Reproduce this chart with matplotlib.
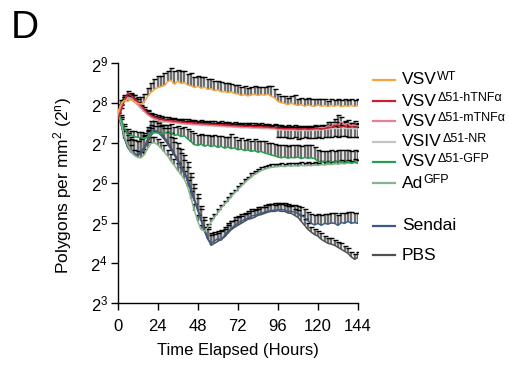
import numpy as np
import matplotlib
matplotlib.use("Agg")
import matplotlib.pyplot as plt
from matplotlib.lines import Line2D
from matplotlib.ticker import FixedLocator, FuncFormatter

plt.rcParams['font.family'] = ['Liberation Sans', 'DejaVu Sans']
plt.rcParams['mathtext.fontset'] = 'custom'
plt.rcParams['mathtext.rm'] = 'Liberation Sans'
plt.rcParams['mathtext.it'] = 'Liberation Sans:italic'

# Imaging time points (hours)
hours = np.arange(0, 145, 2)

# log2(polygons per mm^2), mean and upper SEM for each treatment
vsv_wt = [7.78, 7.98, 8.08, 8.05, 8.10, 8.04, 8.00, 7.99, 8.05, 8.18, 8.28, 8.35,
          8.40, 8.42, 8.45, 8.55, 8.58, 8.48, 8.56, 8.50, 8.52, 8.46, 8.44, 8.40,
          8.43, 8.38, 8.41, 8.35, 8.37, 8.32, 8.34, 8.29, 8.30, 8.27, 8.29, 8.25,
          8.24, 8.20, 8.22, 8.19, 8.21, 8.23, 8.20, 8.22, 8.21, 8.23, 8.18, 8.14,
          8.05, 8.02, 8.00, 7.97, 8.01, 7.97, 7.95, 7.97, 7.93, 7.96, 7.94, 7.93,
          7.96, 7.93, 7.95, 7.92, 7.95, 7.93, 7.96, 7.92, 7.94, 7.93, 7.95, 7.93,
          7.94]
vsv_wt_err = [0.08, 0.10, 0.12, 0.15, 0.14, 0.16, 0.15, 0.17, 0.18, 0.20, 0.22, 0.25,
              0.28, 0.26, 0.30, 0.27, 0.30, 0.33, 0.28, 0.32, 0.30, 0.28, 0.31, 0.27,
              0.25, 0.27, 0.24, 0.26, 0.23, 0.25, 0.22, 0.24, 0.21, 0.23, 0.20, 0.22,
              0.21, 0.20, 0.22, 0.19, 0.21, 0.20, 0.22, 0.19, 0.21, 0.20, 0.25, 0.22,
              0.18, 0.17, 0.19, 0.16, 0.18, 0.25, 0.17, 0.16, 0.18, 0.17, 0.16, 0.18,
              0.15, 0.17, 0.16, 0.15, 0.17, 0.16, 0.15, 0.17, 0.16, 0.15, 0.17, 0.16,
              0.16]

htnf = [7.60, 7.82, 8.08, 8.24, 8.20, 8.12, 8.04, 7.95, 7.85, 7.76, 7.70, 7.66,
        7.63, 7.61, 7.59, 7.58, 7.57, 7.56, 7.55, 7.54, 7.53, 7.52, 7.52, 7.51,
        7.50, 7.50, 7.49, 7.49, 7.48, 7.48, 7.47, 7.47, 7.46, 7.46, 7.45, 7.45,
        7.44, 7.44, 7.43, 7.43, 7.43, 7.42, 7.42, 7.42, 7.41, 7.41, 7.40, 7.40,
        7.38, 7.38, 7.37, 7.37, 7.37, 7.37, 7.36, 7.36, 7.37, 7.36, 7.36, 7.37,
        7.37, 7.36, 7.37, 7.39, 7.40, 7.44, 7.46, 7.41, 7.44, 7.40, 7.42, 7.41,
        7.40]
htnf_err = [0.05, 0.06, 0.08, 0.08, 0.07, 0.08, 0.07, 0.08, 0.07, 0.08, 0.07, 0.08,
            0.07, 0.08, 0.07, 0.08, 0.07, 0.08, 0.07, 0.08, 0.07, 0.08, 0.07, 0.08,
            0.07, 0.08, 0.07, 0.08, 0.07, 0.08, 0.07, 0.08, 0.07, 0.08, 0.07, 0.08,
            0.07, 0.08, 0.07, 0.08, 0.07, 0.08, 0.07, 0.08, 0.07, 0.08, 0.07, 0.08,
            0.07, 0.08, 0.07, 0.08, 0.07, 0.08, 0.07, 0.08, 0.07, 0.08, 0.07, 0.08,
            0.07, 0.08, 0.07, 0.08, 0.07, 0.10, 0.08, 0.09, 0.10, 0.08, 0.09, 0.08,
            0.08]

mtnf = [7.74, 7.92, 8.08, 8.16, 8.14, 8.06, 7.98, 7.90, 7.81, 7.73, 7.67, 7.62,
        7.59, 7.57, 7.56, 7.55, 7.54, 7.53, 7.52, 7.51, 7.50, 7.49, 7.49, 7.48,
        7.48, 7.47, 7.47, 7.46, 7.46, 7.45, 7.45, 7.44, 7.44, 7.43, 7.43, 7.42,
        7.42, 7.41, 7.41, 7.41, 7.40, 7.40, 7.40, 7.39, 7.39, 7.39, 7.38, 7.38,
        7.36, 7.36, 7.35, 7.35, 7.35, 7.35, 7.34, 7.35, 7.35, 7.34, 7.35, 7.36,
        7.38, 7.40, 7.39, 7.44, 7.42, 7.50, 7.45, 7.55, 7.47, 7.50, 7.44, 7.46,
        7.43]
mtnf_err = [0.05, 0.06, 0.07, 0.07, 0.06, 0.07, 0.06, 0.07, 0.06, 0.07, 0.06, 0.07,
            0.06, 0.07, 0.06, 0.07, 0.06, 0.07, 0.06, 0.07, 0.06, 0.07, 0.06, 0.07,
            0.06, 0.07, 0.06, 0.07, 0.06, 0.07, 0.06, 0.07, 0.06, 0.07, 0.06, 0.07,
            0.06, 0.07, 0.06, 0.07, 0.06, 0.07, 0.06, 0.07, 0.06, 0.07, 0.06, 0.07,
            0.06, 0.07, 0.06, 0.07, 0.06, 0.07, 0.06, 0.07, 0.06, 0.07, 0.06, 0.07,
            0.06, 0.07, 0.08, 0.10, 0.12, 0.10, 0.26, 0.12, 0.10, 0.09, 0.08, 0.09,
            0.08]

vsiv_nr = [7.70, 7.90, 8.05, 8.12, 8.10, 8.03, 7.95, 7.87, 7.79, 7.71, 7.65, 7.60,
           7.57, 7.55, 7.54, 7.53, 7.52, 7.51, 7.50, 7.49, 7.48, 7.48, 7.47, 7.46,
           7.46, 7.45, 7.45, 7.44, 7.44, 7.43, 7.43, 7.42, 7.42, 7.41, 7.41, 7.40,
           7.40, 7.39, 7.39, 7.39, 7.38, 7.38, 7.38, 7.37, 7.37, 7.37, 7.36, 7.36,
           7.34, 7.34, 7.33, 7.33, 7.33, 7.33, 7.32, 7.33, 7.33, 7.32, 7.33, 7.33,
           7.34, 7.34, 7.35, 7.36, 7.37, 7.38, 7.37, 7.39, 7.38, 7.37, 7.38, 7.37,
           7.36]
vsiv_nr_err = [0.05, 0.05, 0.06, 0.06, 0.05, 0.06, 0.05, 0.06, 0.05, 0.06, 0.05, 0.06,
               0.05, 0.06, 0.05, 0.06, 0.05, 0.06, 0.05, 0.06, 0.05, 0.06, 0.05, 0.06,
               0.05, 0.06, 0.05, 0.06, 0.05, 0.06, 0.05, 0.06, 0.05, 0.06, 0.05, 0.06,
               0.05, 0.06, 0.05, 0.06, 0.05, 0.06, 0.05, 0.06, 0.05, 0.06, 0.05, 0.06,
               0.05, 0.06, 0.05, 0.06, 0.05, 0.06, 0.05, 0.06, 0.05, 0.06, 0.05, 0.06,
               0.05, 0.06, 0.05, 0.06, 0.05, 0.06, 0.05, 0.06, 0.05, 0.06, 0.05, 0.06,
               0.05]
vsiv_nr_err_low = [0.00, 0.00, 0.00, 0.00, 0.00, 0.00, 0.00, 0.00, 0.00, 0.00, 0.00, 0.00,
                   0.00, 0.00, 0.00, 0.00, 0.00, 0.00, 0.00, 0.00, 0.00, 0.00, 0.00, 0.00,
                   0.00, 0.00, 0.00, 0.00, 0.00, 0.00, 0.00, 0.00, 0.00, 0.00, 0.00, 0.00,
                   0.00, 0.00, 0.00, 0.00, 0.00, 0.00, 0.00, 0.00, 0.00, 0.00, 0.00, 0.00,
                   0.18, 0.19, 0.18, 0.20, 0.19, 0.18, 0.20, 0.19, 0.18, 0.19, 0.20, 0.19,
                   0.18, 0.20, 0.19, 0.21, 0.20, 0.19, 0.21, 0.20, 0.19, 0.20, 0.21, 0.20,
                   0.20]

gfp = [7.84, 7.62, 7.38, 7.24, 7.20, 7.17, 7.15, 7.14, 7.12, 7.17, 7.24, 7.27,
       7.26, 7.24, 7.28, 7.25, 7.27, 7.20, 7.22, 7.17, 7.19, 7.11, 7.04, 6.97,
       6.95, 6.98, 6.93, 6.96, 6.92, 6.95, 6.90, 6.93, 6.88, 6.91, 6.87, 6.89,
       6.84, 6.86, 6.82, 6.84, 6.80, 6.82, 6.78, 6.80, 6.76, 6.74, 6.71, 6.69,
       6.66, 6.64, 6.66, 6.63, 6.65, 6.64, 6.66, 6.62, 6.65, 6.63, 6.64, 6.62,
       6.55, 6.53, 6.56, 6.52, 6.55, 6.53, 6.57, 6.54, 6.52, 6.55, 6.51, 6.53,
       6.50]
gfp_err = [0.05, 0.08, 0.10, 0.12, 0.12, 0.14, 0.13, 0.15, 0.14, 0.16, 0.15, 0.17,
           0.18, 0.20, 0.19, 0.21, 0.22, 0.20, 0.22, 0.21, 0.23, 0.24, 0.26, 0.28,
           0.27, 0.25, 0.28, 0.26, 0.27, 0.25, 0.28, 0.26, 0.27, 0.25, 0.36, 0.26,
           0.25, 0.27, 0.26, 0.28, 0.27, 0.29, 0.28, 0.27, 0.29, 0.28, 0.30, 0.29,
           0.30, 0.31, 0.29, 0.31, 0.30, 0.32, 0.30, 0.31, 0.30, 0.32, 0.31, 0.30,
           0.28, 0.27, 0.26, 0.28, 0.29, 0.27, 0.26, 0.30, 0.32, 0.28, 0.31, 0.30,
           0.32]

ad_gfp = [7.80, 7.52, 7.18, 6.95, 6.80, 6.70, 6.65, 6.64, 6.72, 6.88, 7.00, 7.02,
          6.96, 6.88, 6.78, 6.68, 6.55, 6.45, 6.32, 6.22, 6.10, 5.90, 5.62, 5.32,
          5.05, 4.85, 4.80, 4.90, 5.03, 5.15, 5.27, 5.38, 5.48, 5.57, 5.67, 5.76,
          5.85, 5.93, 6.01, 6.09, 6.16, 6.22, 6.27, 6.32, 6.35, 6.38, 6.40, 6.41,
          6.42, 6.43, 6.42, 6.44, 6.43, 6.44, 6.43, 6.45, 6.44, 6.45, 6.44, 6.46,
          6.45, 6.47, 6.46, 6.48, 6.47, 6.49, 6.48, 6.50, 6.49, 6.51, 6.50, 6.52,
          6.52]
ad_gfp_err = [0.05, 0.10, 0.12, 0.14, 0.15, 0.14, 0.16, 0.15, 0.14, 0.16, 0.15, 0.14,
              0.16, 0.15, 0.17, 0.16, 0.18, 0.17, 0.19, 0.18, 0.20, 0.19, 0.18, 0.17,
              0.15, 0.12, 0.10, 0.09, 0.10, 0.08, 0.09, 0.08, 0.09, 0.08, 0.09, 0.08,
              0.09, 0.08, 0.09, 0.08, 0.09, 0.08, 0.09, 0.08, 0.09, 0.08, 0.09, 0.08,
              0.07, 0.08, 0.07, 0.08, 0.07, 0.08, 0.07, 0.08, 0.07, 0.08, 0.07, 0.08,
              0.07, 0.08, 0.07, 0.08, 0.07, 0.08, 0.07, 0.08, 0.07, 0.08, 0.07, 0.08,
              0.07]

sendai = [7.80, 7.50, 7.12, 6.90, 6.78, 6.74, 6.72, 6.80, 6.92, 7.12, 7.30, 7.34,
          7.28, 7.20, 7.10, 6.98, 6.84, 6.70, 6.55, 6.40, 6.25, 6.05, 5.80, 5.56,
          5.32, 5.06, 4.80, 4.60, 4.50, 4.56, 4.62, 4.58, 4.70, 4.80, 4.86, 4.95,
          5.00, 5.05, 5.10, 5.12, 5.18, 5.20, 5.22, 5.25, 5.28, 5.30, 5.32, 5.33,
          5.33, 5.35, 5.33, 5.30, 5.30, 5.28, 5.25, 5.20, 5.15, 5.06, 5.00, 4.96,
          5.00, 4.95, 5.00, 4.98, 5.01, 5.00, 4.95, 5.02, 5.00, 5.05, 5.00, 5.02,
          5.00]
sendai_err = [0.05, 0.15, 0.25, 0.30, 0.32, 0.35, 0.33, 0.34, 0.30, 0.28, 0.25, 0.22,
              0.24, 0.26, 0.28, 0.30, 0.32, 0.34, 0.33, 0.35, 0.34, 0.36, 0.35, 0.33,
              0.32, 0.30, 0.28, 0.26, 0.25, 0.22, 0.20, 0.22, 0.20, 0.21, 0.19, 0.20,
              0.18, 0.19, 0.17, 0.18, 0.19, 0.17, 0.18, 0.16, 0.17, 0.18, 0.16, 0.17,
              0.18, 0.16, 0.17, 0.18, 0.16, 0.17, 0.19, 0.20, 0.22, 0.23, 0.24, 0.26,
              0.24, 0.25, 0.23, 0.26, 0.24, 0.25, 0.27, 0.24, 0.26, 0.23, 0.28, 0.25,
              0.27]

pbs = [7.80, 7.48, 7.15, 6.92, 6.80, 6.72, 6.70, 6.75, 6.86, 7.02, 7.20, 7.30,
       7.30, 7.25, 7.15, 7.04, 6.90, 6.75, 6.60, 6.45, 6.30, 6.10, 5.86, 5.60,
       5.36, 5.10, 4.86, 4.62, 4.45, 4.50, 4.55, 4.60, 4.66, 4.75, 4.84, 4.90,
       4.95, 5.00, 5.05, 5.10, 5.12, 5.15, 5.20, 5.22, 5.25, 5.28, 5.30, 5.30,
       5.32, 5.30, 5.30, 5.26, 5.25, 5.20, 5.15, 5.05, 4.95, 4.85, 4.78, 4.72,
       4.68, 4.60, 4.55, 4.50, 4.48, 4.45, 4.40, 4.35, 4.30, 4.25, 4.16, 4.10,
       4.15]
pbs_err = [0.05, 0.18, 0.28, 0.33, 0.35, 0.37, 0.36, 0.35, 0.33, 0.30, 0.27, 0.25,
           0.27, 0.30, 0.32, 0.34, 0.36, 0.38, 0.40, 0.42, 0.40, 0.43, 0.41, 0.39,
           0.37, 0.34, 0.30, 0.28, 0.26, 0.24, 0.22, 0.23, 0.21, 0.20, 0.21, 0.19,
           0.20, 0.18, 0.19, 0.17, 0.18, 0.19, 0.17, 0.18, 0.16, 0.17, 0.18, 0.16,
           0.17, 0.18, 0.16, 0.17, 0.18, 0.17, 0.18, 0.17, 0.16, 0.15, 0.14, 0.15,
           0.14, 0.15, 0.14, 0.13, 0.15, 0.14, 0.13, 0.15, 0.14, 0.13, 0.12, 0.14,
           0.13]

# (main label, superscript, colour, mean, upper err, lower err)
series = [
    ("VSV", "WT", "#F4A640", vsv_wt, vsv_wt_err, None),
    ("VSV", "\u039451-hTNF\u03b1", "#CC1F2E", htnf, htnf_err, None),
    ("VSV", "\u039451-mTNF\u03b1", "#E8808F", mtnf, mtnf_err, None),
    ("VSIV", "\u039451-NR", "#C4C4C4", vsiv_nr, vsiv_nr_err, vsiv_nr_err_low),
    ("VSV", "\u039451-GFP", "#22A04B", gfp, gfp_err, None),
    ("Ad", "GFP", "#86B58C", ad_gfp, ad_gfp_err, None),
    ("Sendai", "", "#3D5A87", sendai, sendai_err, None),
    ("PBS", "", "#505050", pbs, pbs_err, None),
]
# legend row centres in figure pixels (from top)
legend_rows = [80, 101, 121, 142, 162, 183, 226, 255]

W, H = 509, 365
fig = plt.figure(figsize=(W / 100, H / 100), dpi=100)
ax = fig.add_axes([117.7 / W, 1 - 303.3 / H, (358 - 117.7) / W, (303.3 - 63.5) / H])

BAR = "#6e6e6e"


def draw_err(t, y, up, low):
    y = np.asarray(y)
    up = np.asarray(up)
    ax.vlines(t, y, y + up, colors=BAR, linewidth=1.7, zorder=2)
    ax.plot(t, y + up, ls="none", marker="_", ms=3.6, mew=1.0, color="black", zorder=2.1)
    if low is not None:
        low = np.asarray(low)
        m = low > 0
        ax.vlines(t[m], y[m] - low[m], y[m], colors=BAR, linewidth=1.7, zorder=2)
        ax.plot(t[m], y[m] - low[m], ls="none", marker="_", ms=3.6, mew=1.0,
                color="black", zorder=2.1)


for name, sup, col, y, up, low in series:
    draw_err(hours, y, up, low)

draw_order = [7, 6, 5, 4, 3, 2, 1, 0]
for k, i in enumerate(draw_order):
    name, sup, col, y, up, low = series[i]
    ax.plot(hours, y, color=col, lw=1.1, zorder=3 + k * 0.01)

ax.set_xlim(0, 144)
ax.set_ylim(3, 9)
ax.xaxis.set_major_locator(FixedLocator([0, 24, 48, 72, 96, 120, 144]))
ax.yaxis.set_major_locator(FixedLocator(range(3, 10)))
ax.yaxis.set_major_formatter(FuncFormatter(lambda v, p: r"$\mathregular{2^{%d}}$" % v))
for s in ["top", "right"]:
    ax.spines[s].set_visible(False)
for s in ["left", "bottom"]:
    ax.spines[s].set_linewidth(1.0)
ax.tick_params(axis="both", direction="out", length=5, width=1.0, labelsize=12, pad=2)
ax.tick_params(axis="x", pad=6)

ax.set_xlabel("Time Elapsed (Hours)", fontsize=12, labelpad=7)
fig.text(63 / W, 1 - 186 / H, r"Polygons per mm$\mathregular{^2}$ (2$\mathregular{^n}$)",
         rotation=90, fontsize=12.5, ha="center", va="center")

fig.text(11 / W, 1 - 38 / H, "D", fontsize=28, ha="left", va="baseline")

# legend
for (name, sup, col, y, up, low), ry in zip(series, legend_rows):
    yf = 1 - ry / H
    fig.add_artist(Line2D([373 / W, 395 / W], [yf, yf], color=col, lw=1.6,
                          transform=fig.transFigure))
    t = fig.text(402 / W, yf, name, fontsize=12.5, ha="left", va="center")
    if sup:
        fig.add_artist(plt.Annotation(sup, xy=(1.0, 0.50), xycoords=t,
                                      xytext=(0.3, 0), textcoords="offset points",
                                      fontsize=9, ha="left", va="baseline"))

fig.savefig("out.png", dpi=100)
